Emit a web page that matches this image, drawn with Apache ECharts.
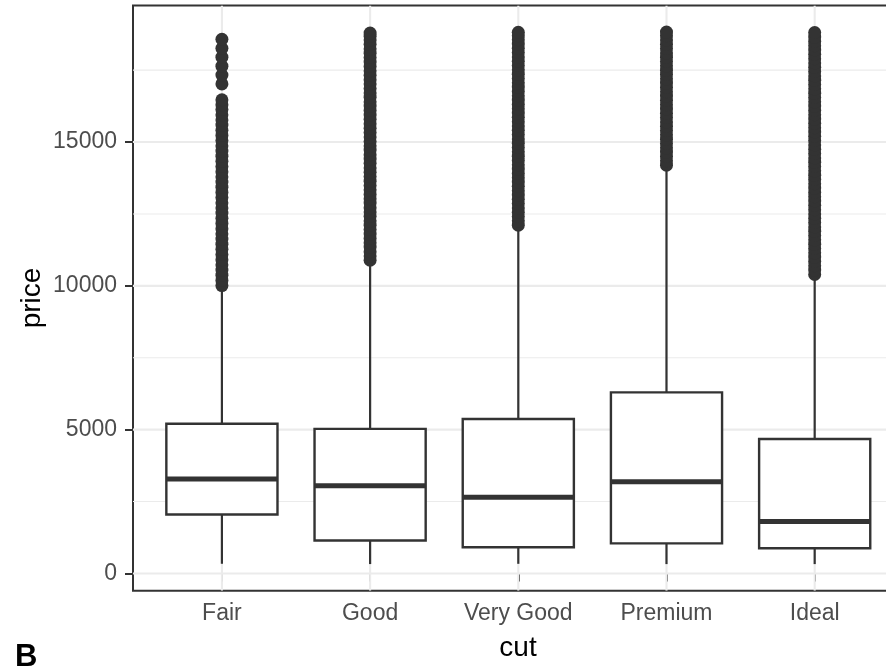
<!DOCTYPE html>
<html>
<head>
<meta charset="utf-8">
<script src="https://cdn.jsdelivr.net/npm/echarts@6/dist/echarts.min.js"></script>
<style>
html,body{margin:0;padding:0;background:#fff;}
#chart{width:886px;height:670px;}
</style>
</head>
<body>
<div id="chart"></div>
<script>
// ---- data ----
var cuts = ['Fair', 'Good', 'Very Good', 'Premium', 'Ideal'];
var lowerWhisker = [337, 327, 336, 326, 326];
var q1 = [2050, 1145, 912, 1046, 878];
var median = [3282, 3050, 2648, 3185, 1810];
var q3 = [5206, 5028, 5373, 6296, 4678];
var upperWhisker = [9836, 10845, 12048, 14171, 10370];

var fairOutliers = [10010, 10190, 10370, 10550, 10730, 10910, 11090, 11270, 11450, 11630, 11810, 11990, 12170, 12350, 12530, 12710, 12890, 13070, 13250, 13430, 13610, 13790, 13970, 14150, 14330, 14510, 14690, 14870, 15050, 15230, 15410, 15590, 15770, 15950, 16130, 16300, 16470, 17020, 17330, 17640, 17950, 18260, 18574];
var goodOutliers = [10890, 11040, 11190, 11350, 11500, 11650, 11800, 11960, 12110, 12260, 12420, 12570, 12720, 12880, 13030, 13180, 13340, 13490, 13640, 13800, 13950, 14100, 14260, 14410, 14560, 14720, 14870, 15020, 15180, 15330, 15480, 15640, 15790, 15940, 16100, 16250, 16400, 16560, 16710, 16860, 17020, 17170, 17320, 17480, 17630, 17780, 17940, 18090, 18240, 18400, 18550, 18680, 18788];
var veryGoodOutliers = [12110, 12260, 12410, 12560, 12710, 12860, 13010, 13160, 13310, 13460, 13610, 13760, 13910, 14060, 14210, 14360, 14510, 14660, 14810, 14960, 15110, 15260, 15410, 15560, 15710, 15860, 16010, 16160, 16310, 16460, 16610, 16760, 16910, 17060, 17210, 17360, 17510, 17660, 17810, 17960, 18110, 18260, 18410, 18560, 18700, 18818];
var premiumOutliers = [14196, 14350, 14500, 14650, 14800, 14950, 15100, 15250, 15400, 15550, 15700, 15850, 16000, 16150, 16300, 16450, 16600, 16750, 16900, 17050, 17200, 17350, 17500, 17650, 17800, 17950, 18100, 18250, 18400, 18550, 18700, 18823];
var idealOutliers = [10396, 10550, 10700, 10850, 11000, 11150, 11300, 11450, 11600, 11750, 11900, 12050, 12200, 12350, 12500, 12650, 12800, 12950, 13100, 13250, 13400, 13550, 13700, 13850, 14000, 14150, 14300, 14450, 14600, 14750, 14900, 15050, 15200, 15350, 15500, 15650, 15800, 15950, 16100, 16250, 16400, 16550, 16700, 16850, 17000, 17150, 17300, 17450, 17600, 17750, 17900, 18050, 18200, 18350, 18500, 18650, 18806];

var yTicks = [0, 5000, 10000, 15000];
var yMinorGrid = [2500, 7500, 12500, 17500];
var yMin = -599, yMax = 19748;

// ---- build ----
var allOutliers = [fairOutliers, goodOutliers, veryGoodOutliers, premiumOutliers, idealOutliers];
var xPos = cuts.map(function (c, i) { return i + 1; });
var boxData = cuts.map(function (c, i) {
  return [xPos[i], lowerWhisker[i], q1[i], median[i], q3[i], upperWhisker[i]];
});
var outlierData = [];
allOutliers.forEach(function (arr, i) {
  arr.forEach(function (v) { outlierData.push([xPos[i], v]); });
});
var gridLineData = [];
yTicks.forEach(function (v) { gridLineData.push(['h', v, 2.1]); });
yMinorGrid.forEach(function (v) { gridLineData.push(['h', v, 1.1]); });
xPos.forEach(function (v) { gridLineData.push(['v', v, 2.1]); });

var FONT = '"Liberation Sans", Arial, Helvetica, sans-serif';
var chart = echarts.init(document.getElementById('chart'), null, {renderer: 'canvas'});
var option = {
  animation: false,
  backgroundColor: '#ffffff',
  grid: {
    left: 133, top: 5.5, width: 770.6, height: 585.2,
    show: true, borderColor: '#333333', borderWidth: 2, backgroundColor: 'transparent',
    containLabel: false, outerBoundsMode: 'none'
  },
  xAxis: {
    type: 'value', min: 0.4, max: 5.6,
    axisLine: {show: false},
    splitLine: {show: false},
    axisTick: {show: true, customValues: xPos, length: 8, lineStyle: {color: '#333333', width: 2}},
    axisLabel: {
      show: true, customValues: xPos, margin: 11,
      color: '#4D4D4D', fontSize: 23, fontFamily: FONT,
      formatter: function (v) { return cuts[Math.round(v) - 1] || ''; }
    }
  },
  yAxis: {
    type: 'value', min: yMin, max: yMax,
    axisLine: {show: false},
    splitLine: {show: false},
    axisTick: {show: true, customValues: yTicks, length: 8, lineStyle: {color: '#333333', width: 2}},
    axisLabel: {show: true, customValues: yTicks, margin: 16, color: '#4D4D4D', fontSize: 23, fontFamily: FONT,
      formatter: function (v) { return String(v); }}
  },
  graphic: [
    {
      type: 'text', x: 32, y: 298, rotation: Math.PI / 2,
      style: {text: 'price', fontSize: 28, fontFamily: FONT, fill: '#000', align: 'center', verticalAlign: 'middle'}
    },
    {
      type: 'text', x: 518, y: 648,
      style: {text: 'cut', fontSize: 28, fontFamily: FONT, fill: '#000', align: 'center', verticalAlign: 'middle'}
    },
    {
      type: 'text', x: 15, y: 657,
      style: {text: 'B', fontSize: 31, fontWeight: 'bold', fontFamily: FONT, fill: '#000', align: 'left', verticalAlign: 'middle'}
    }
  ],
  series: [
    {
      type: 'custom', z: 1, silent: true, clip: true,
      data: gridLineData,
      renderItem: function (params, api) {
        var kind = gridLineData[params.dataIndex][0];
        var v = api.value(1), w = api.value(2);
        var p1, p2;
        if (kind === 'h') { p1 = api.coord([0.4, v]); p2 = api.coord([5.6, v]); }
        else { p1 = api.coord([v, yMin]); p2 = api.coord([v, yMax]); }
        return {type: 'line', shape: {x1: p1[0], y1: p1[1], x2: p2[0], y2: p2[1]},
          style: {stroke: '#EBEBEB', lineWidth: w}};
      },
      encode: {x: 1, y: 1}
    },
    {
      type: 'custom', z: 3, silent: true,
      data: boxData,
      renderItem: function (params, api) {
        var x = api.value(0);
        var half = 0.375;
        var lw = api.coord([x, api.value(1)]);
        var a = api.coord([x, api.value(2)]);
        var m = api.coord([x, api.value(3)]);
        var b = api.coord([x, api.value(4)]);
        var uw = api.coord([x, api.value(5)]);
        var L = api.coord([x - half, 0])[0];
        var R = api.coord([x + half, 0])[0];
        var st = {stroke: '#333333', lineWidth: 2.2, fill: null};
        return {
          type: 'group',
          children: [
            {type: 'line', shape: {x1: lw[0], y1: lw[1], x2: a[0], y2: a[1]}, style: st},
            {type: 'line', shape: {x1: b[0], y1: b[1], x2: uw[0], y2: uw[1]}, style: st},
            {type: 'rect', shape: {x: L, y: b[1], width: R - L, height: a[1] - b[1]},
              style: {stroke: '#333333', lineWidth: 2.4, fill: '#ffffff'}},
            {type: 'line', shape: {x1: L, y1: m[1], x2: R, y2: m[1]}, style: {stroke: '#333333', lineWidth: 5}}
          ]
        };
      },
      encode: {x: 0, y: [1, 2, 3, 4, 5]}
    },
    {
      type: 'scatter', z: 4, silent: true,
      data: outlierData,
      symbol: 'circle', symbolSize: 13,
      itemStyle: {color: '#333333', opacity: 1}
    }
  ]
};
chart.setOption(option);
</script>
</body>
</html>
